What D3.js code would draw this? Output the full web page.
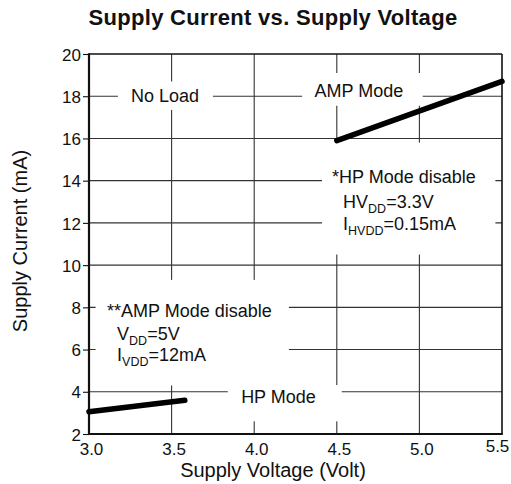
<!DOCTYPE html>
<html>
<head>
<meta charset="utf-8">
<script src="https://cdn.jsdelivr.net/npm/d3@7"></script>
<style>
  html, body { margin: 0; padding: 0; background: #fff; }
  svg { display: block; font-family: "Liberation Sans", Arial, sans-serif; }
</style>
</head>
<body>
<script>
// Axis ticks
const xTicks = [3.0, 3.5, 4.0, 4.5, 5.0, 5.5];
const yTicks = [2, 4, 6, 8, 10, 12, 14, 16, 18, 20];

// Measured supply current (mA) vs supply voltage (V)
const ampModeV = [4.5, 5.5];
const ampModeI = [15.9, 18.7];
const hpModeV = [3.0, 3.58];
const hpModeI = [3.05, 3.6];

const W = 511, H = 484;
const margin = { left: 89, right: 9, top: 54, bottom: 50 };

const svg = d3.select("body").append("svg").attr("width", W).attr("height", H);

const x = d3.scaleLinear().domain([3.0, 5.5]).range([margin.left, W - margin.right]);
const y = d3.scaleLinear().domain([2, 20]).range([H - margin.bottom, margin.top]);

// Grid
const grid = svg.append("g");
grid.selectAll("line.v").data(xTicks.slice(1, -1)).join("line")
  .attr("x1", d => x(d)).attr("x2", d => x(d))
  .attr("y1", y(20)).attr("y2", y(2))
  .attr("stroke", "#333").attr("stroke-width", 1.1);
grid.selectAll("line.h").data(yTicks.slice(1, -1)).join("line")
  .attr("x1", x(3)).attr("x2", x(5.5))
  .attr("y1", d => y(d)).attr("y2", d => y(d))
  .attr("stroke", "#333").attr("stroke-width", 1.1);

// White panels behind the annotations (data units)
const panels = [
  { x0: 3.175, x1: 3.75, y0: 17.35, y1: 18.7 },
  { x0: 4.29, x1: 5.02, y0: 17.55, y1: 19.1 },
  { x0: 4.41, x1: 5.46, y0: 10.5, y1: 15.8 },
  { x0: 3.04, x1: 4.21, y0: 4.3, y1: 9.3 },
  { x0: 3.84, x1: 4.53, y0: 2.6, y1: 4.32 }
];
svg.append("g").selectAll("rect").data(panels).join("rect")
  .attr("x", d => x(d.x0)).attr("y", d => y(d.y1))
  .attr("width", d => x(d.x1) - x(d.x0)).attr("height", d => y(d.y0) - y(d.y1))
  .attr("fill", "#fff");

// Frame
const frame = svg.append("g").attr("fill", "none").attr("stroke", "#111");
frame.append("line").attr("x1", x(3)).attr("x2", x(5.5)).attr("y1", y(20)).attr("y2", y(20)).attr("stroke-width", 1.6);
frame.append("line").attr("x1", x(5.5)).attr("x2", x(5.5)).attr("y1", y(20)).attr("y2", y(2)).attr("stroke-width", 1.6);
frame.append("line").attr("x1", x(3)).attr("x2", x(3)).attr("y1", y(20) - 0.8).attr("y2", y(2) + 1).attr("stroke-width", 2.2);
frame.append("line").attr("x1", x(3) - 1).attr("x2", x(5.5) + 0.8).attr("y1", y(2)).attr("y2", y(2)).attr("stroke-width", 2.2);

// Y tick marks and labels
const yAxis = d3.axisLeft(y).tickValues(yTicks).tickSize(6).tickFormat(d3.format("d"));
const ya = svg.append("g").attr("transform", `translate(${x(3)},0)`).call(yAxis);
ya.select(".domain").remove();
ya.selectAll(".tick line").attr("stroke", "#111").attr("stroke-width", 1.1);
ya.selectAll(".tick text").attr("font-size", 17).attr("fill", "#111")
  .attr("font-family", "Liberation Sans, Arial, sans-serif").attr("x", -8).attr("dy", "0.36em");

// X tick labels
const xAxis = d3.axisBottom(x).tickValues(xTicks).tickSize(0).tickFormat(d3.format(".1f"));
const xa = svg.append("g").attr("transform", `translate(0,${y(2)})`).call(xAxis);
xa.select(".domain").remove();
xa.selectAll(".tick text").attr("font-size", 17).attr("fill", "#111")
  .attr("font-family", "Liberation Sans, Arial, sans-serif")
  .attr("y", d => d === 5.5 ? 6 : 9)
  .attr("x", d => d === 5.5 ? -5 : 2);

// Data lines
const line = d3.line().x(d => x(d[0])).y(d => y(d[1]));
const series = [d3.zip(ampModeV, ampModeI), d3.zip(hpModeV, hpModeI)];
svg.append("g").selectAll("path").data(series).join("path")
  .attr("d", line).attr("fill", "none").attr("stroke", "#000")
  .attr("stroke-width", 5.5).attr("stroke-linecap", "round");

// Annotations: position in data units (baseline), parts may carry subscripts
const ann = svg.append("g").attr("font-size", 18).attr("fill", "#111");
function label(vx, vy, parts, anchor) {
  const t = ann.append("text").attr("x", x(vx)).attr("y", y(vy))
    .attr("text-anchor", anchor || "start");
  let sub = false;
  parts.forEach(p => {
    if (typeof p === "string") {
      t.append("tspan").attr("dy", sub ? -5 : 0).text(p);
      sub = false;
    } else {
      t.append("tspan").attr("font-size", 12.5).attr("dy", 5).text(p.sub);
      sub = true;
    }
  });
}
label(3.46, 17.73, ["No Load"], "middle");
label(4.634, 17.96, ["AMP Mode"], "middle");
label(4.147, 3.47, ["HP Mode"], "middle");
label(4.471, 13.89, ["*HP Mode disable"]);
label(4.538, 12.71, ["HV", { sub: "DD" }, "=3.3V"]);
label(4.538, 11.66, ["I", { sub: "HVDD" }, "=0.15mA"]);
label(3.109, 7.54, ["**AMP Mode disable"]);
label(3.17, 6.45, ["V", { sub: "DD" }, "=5V"]);
label(3.17, 5.46, ["I", { sub: "VDD" }, "=12mA"]);

// Titles
svg.append("text").attr("x", 273).attr("y", 25).attr("text-anchor", "middle")
  .attr("font-size", 22).attr("font-weight", "bold").attr("fill", "#111")
  .attr("letter-spacing", 0.3)
  .text("Supply Current vs. Supply Voltage");
svg.append("text").attr("x", 273).attr("y", 477).attr("text-anchor", "middle")
  .attr("font-size", 20).attr("fill", "#111").text("Supply Voltage (Volt)");
svg.append("text").attr("transform", "translate(27,241) rotate(-90)")
  .attr("text-anchor", "middle").attr("font-size", 20).attr("fill", "#111")
  .text("Supply Current (mA)");
</script>
</body>
</html>
